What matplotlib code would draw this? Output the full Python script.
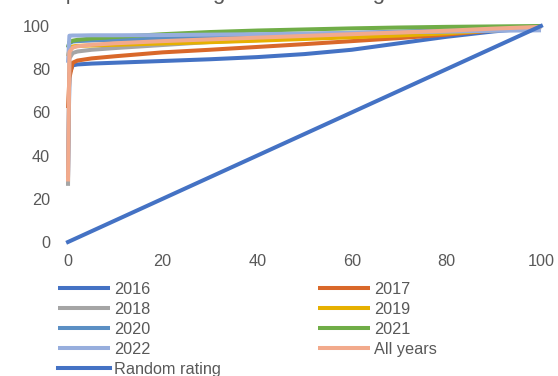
import matplotlib
matplotlib.use("Agg")
import matplotlib.pyplot as plt

plt.rcParams['font.family'] = ['Liberation Sans', 'DejaVu Sans']

# share of portfolio (x) vs cumulative share of defaults (y)
x_share = [0, 0.3, 1, 2, 5, 10, 20, 30, 40, 50, 60, 70, 80, 90, 100]

y2016 = [30, 78, 81.8, 82.2, 82.6, 83.0, 83.8, 84.6, 85.6, 87.0, 89.0, 92.0, 95.0, 97.5, 99.5]
y2017 = [62, 76, 83.0, 84.0, 85.0, 86.0, 87.8, 89.0, 90.3, 91.6, 93.0, 94.4, 96.0, 98.0, 100]
y2018 = [26, 85, 87.5, 88.2, 89.0, 89.8, 91.2, 92.6, 93.5, 94.4, 95.4, 96.3, 97.2, 98.4, 99.5]
y2019 = [86, 89, 90.5, 90.8, 91.0, 91.3, 91.9, 92.5, 93.2, 94.0, 94.8, 95.6, 96.6, 98.0, 99.5]
y2020 = [90, 92, 92.8, 93.0, 93.3, 93.6, 94.3, 95.0, 95.6, 96.2, 96.8, 97.4, 98.0, 98.8, 99.6]
y2021 = [90, 92.5, 93.2, 93.6, 94.2, 94.9, 96.2, 97.2, 97.9, 98.4, 98.9, 99.3, 99.6, 99.8, 100]
y2022 = [83, 95.5, 95.6, 95.6, 95.7, 95.7, 95.8, 96.0, 96.2, 96.5, 96.8, 97.1, 97.4, 97.8, 98.0]
y_all = [28, 88, 90.0, 90.6, 91.3, 92.0, 93.0, 93.8, 94.6, 95.4, 96.2, 97.0, 97.8, 98.8, 99.6]
y_random = [0, 100]
x_random = [0, 100]

labels = ['2016', '2017', '2018', '2019', '2020', '2021', '2022', 'All years']
series = [y2016, y2017, y2018, y2019, y2020, y2021, y2022, y_all]
colors = ['#4472C4', '#D9682A', '#A5A5A5', '#E6B000', '#5B8FC4', '#70AD47', '#97AEDD', '#F2AA8C']

fig = plt.figure(figsize=(5.58, 3.76), dpi=100)
ax = fig.add_axes([68 / 558, 1 - 242 / 376, 473 / 558, 216 / 376])

handles = {}
for lab, ys, col in zip(labels, series, colors):
    h, = ax.plot(x_share, ys, color=col, lw=2.9, clip_on=False, solid_capstyle='butt')
    handles[lab] = h
h, = ax.plot(x_random, y_random, color='#4472C4', lw=2.9, clip_on=False)
handles['Random rating'] = h

ax.set_xlim(0, 100)
ax.set_ylim(0, 100)
ax.set_xticks([0, 20, 40, 60, 80, 100])
ax.set_yticks([0, 20, 40, 60, 80, 100])
for s in ax.spines.values():
    s.set_visible(False)
ax.tick_params(length=0, labelsize=11.7, labelcolor='#595959')
ax.tick_params(axis='y', pad=13)
ax.tick_params(axis='x', pad=9)

# row-major ordering for a 2 column legend
order = ['2016', '2018', '2020', '2022', 'Random rating', '2017', '2019', '2021', 'All years']
leg = fig.legend([handles[k] for k in order], order, ncol=2, frameon=False,
                 loc='upper left', bbox_to_anchor=(58 / 558, 1 - 282 / 376),
                 fontsize=11.7, labelcolor='#595959', handlelength=3.2,
                 handletextpad=0.25, columnspacing=6.0, labelspacing=0.31,
                 borderaxespad=0, borderpad=0)

# title is cut off at the top of the image
fig.text(19 / 558, 1 + 0.5 / 376, 'Comparison of rating and the ranking', fontsize=16,
         color='#595959', ha='left', va='baseline')

fig.savefig('out.png', dpi=100)
